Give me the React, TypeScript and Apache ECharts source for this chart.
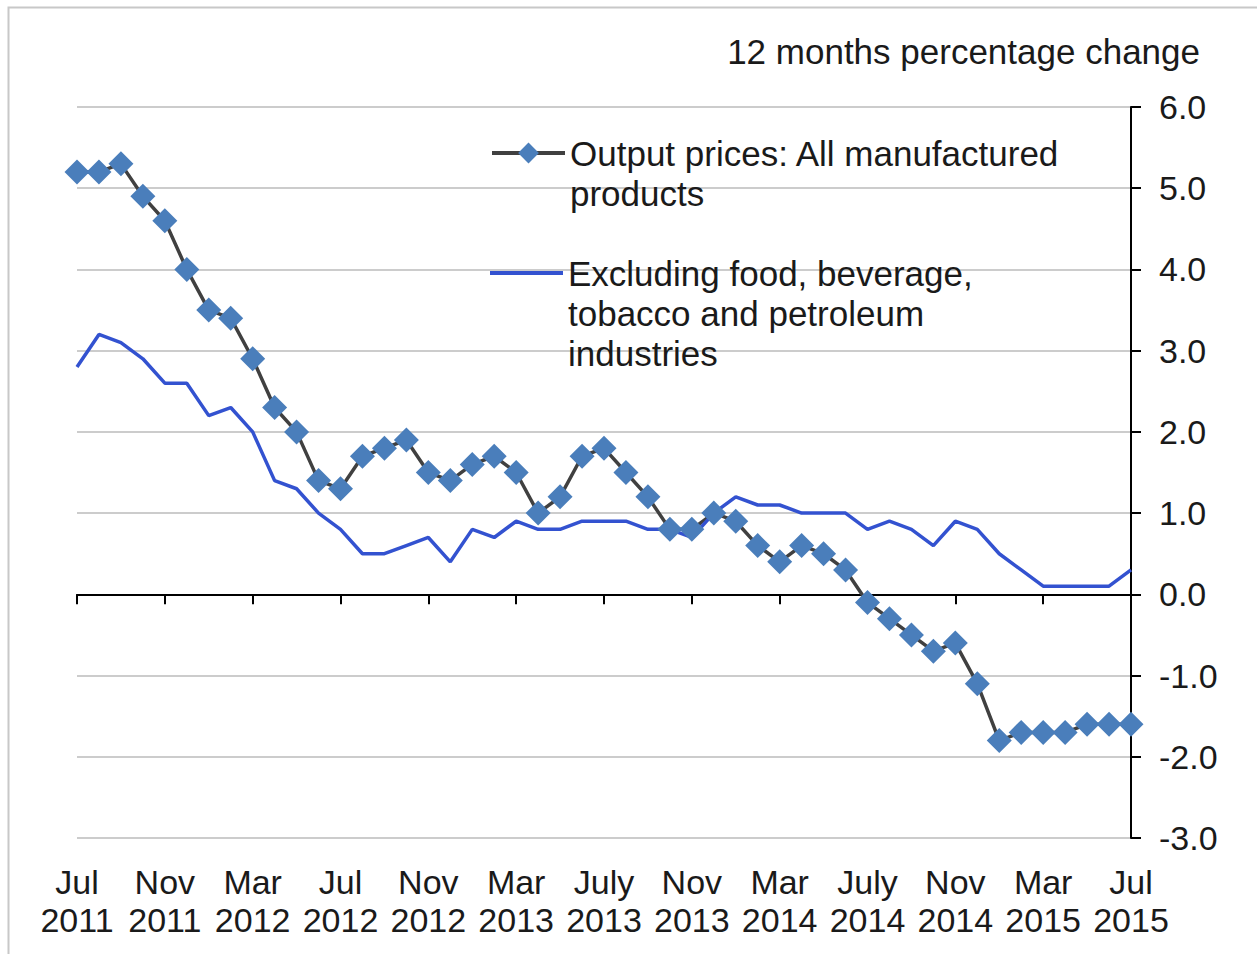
import React, { useEffect, useRef } from "react";
import * as echarts from "echarts";

const MONTHS = ["Jan", "Feb", "Mar", "Apr", "May", "Jun", "Jul", "Aug", "Sep", "Oct", "Nov", "Dec"];
// Jul 2011 .. Jul 2015 (49 months)
const categories: string[] = [];
for (let k = 0; k < 49; k++) {
  const m = (6 + k) % 12;
  const y = 2011 + Math.floor((6 + k) / 12);
  categories.push(MONTHS[m] + " " + y);
}

const tickLabels = [
  "Jul\n2011", "Nov\n2011", "Mar\n2012", "Jul\n2012", "Nov\n2012", "Mar\n2013", "July\n2013",
  "Nov\n2013", "Mar\n2014", "July\n2014", "Nov\n2014", "Mar\n2015", "Jul\n2015",
];

const outputPrices = [
  5.2, 5.2, 5.3, 4.9, 4.6, 4.0, 3.5, 3.4, 2.9, 2.3, 2.0, 1.4, 1.3,
  1.7, 1.8, 1.9, 1.5, 1.4, 1.6, 1.7, 1.5, 1.0, 1.2, 1.7, 1.8,
  1.5, 1.2, 0.8, 0.8, 1.0, 0.9, 0.6, 0.4, 0.6, 0.5, 0.3, -0.1,
  -0.3, -0.5, -0.7, -0.6, -1.1, -1.8, -1.7, -1.7, -1.7, -1.6, -1.6, -1.6,
];

const excludingFood = [
  2.8, 3.2, 3.1, 2.9, 2.6, 2.6, 2.2, 2.3, 2.0, 1.4, 1.3, 1.0, 0.8,
  0.5, 0.5, 0.6, 0.7, 0.4, 0.8, 0.7, 0.9, 0.8, 0.8, 0.9, 0.9,
  0.9, 0.8, 0.8, 0.7, 1.0, 1.2, 1.1, 1.1, 1.0, 1.0, 1.0, 0.8,
  0.9, 0.8, 0.6, 0.9, 0.8, 0.5, 0.3, 0.1, 0.1, 0.1, 0.1, 0.3,
];

const seriesNames = [
  "Output prices: All manufactured\nproducts",
  "Excluding food, beverage,\ntobacco and petroleum\nindustries",
];

const FONT = "'Liberation Sans', Arial, sans-serif";
const TEXT = "#1a1a1a";

export default function App() {
  const ref = useRef<HTMLDivElement>(null);
  useEffect(() => {
    if (!ref.current) return;
    const chart = echarts.init(ref.current, null, { renderer: "svg" });
    const legendText = {
      fontFamily: FONT,
      fontSize: 35,
      lineHeight: 40,
      color: TEXT,
    };
    chart.setOption({
      animation: false,
      backgroundColor: "#ffffff",
      textStyle: { fontFamily: FONT },
      title: {
        text: "12 months percentage change",
        right: 57,
        top: 34,
        padding: 0,
        textStyle: { fontFamily: FONT, fontSize: 35, fontWeight: "normal", color: TEXT },
      },
      graphic: [
        {
          type: "rect",
          shape: { x: 8.5, y: 7.5, width: 1400, height: 1100 },
          style: { fill: "none", stroke: "#c8c8c8", lineWidth: 2 },
          silent: true,
        },
      ],
      legend: [
        {
          data: [seriesNames[0]],
          left: 490,
          top: 93,
          padding: 0,
          itemWidth: 73,
          itemHeight: 26,
          selectedMode: false,
          lineStyle: { width: 4 },
          // leading blank line keeps the first text line level with the icon
          formatter: (name: string) => "\n" + name,
          textStyle: legendText,
        },
        {
          data: [{ name: seriesNames[1], icon: "rect" }],
          left: 490,
          top: 173,
          padding: 0,
          itemWidth: 73,
          itemHeight: 4,
          selectedMode: false,
          formatter: (name: string) => "\n\n" + name,
          textStyle: legendText,
        },
      ],
      grid: { left: 77, right: 126, top: 107, bottom: 116, containLabel: false },
      xAxis: [
        {
          type: "category",
          data: categories,
          boundaryGap: false,
          axisLine: { onZero: true, lineStyle: { color: "#000", width: 2 } },
          axisTick: { show: true, interval: 3, length: 10, lineStyle: { color: "#000", width: 2 } },
          axisLabel: { show: false },
          splitLine: { show: false },
        },
        {
          type: "category",
          data: categories,
          boundaryGap: false,
          position: "bottom",
          axisLine: { show: false, onZero: false },
          axisTick: { show: false },
          splitLine: { show: false },
          axisLabel: {
            interval: 3,
            margin: 25,
            fontFamily: FONT,
            fontSize: 34,
            lineHeight: 38,
            color: TEXT,
            formatter: (_v: string, idx: number) => (idx % 4 === 0 ? tickLabels[idx / 4] : ""),
          },
        },
      ],
      yAxis: {
        type: "value",
        position: "right",
        min: -3,
        max: 6,
        interval: 1,
        axisLine: { show: true, lineStyle: { color: "#000", width: 2 } },
        axisTick: { show: true, length: 10, lineStyle: { color: "#000", width: 2 } },
        axisLabel: {
          margin: 28,
          fontFamily: FONT,
          fontSize: 34,
          color: TEXT,
          formatter: (v: number) => v.toFixed(1),
        },
        splitLine: { show: true, lineStyle: { color: "#cccccc", width: 2 } },
      },
      series: [
        {
          name: seriesNames[0],
          type: "line",
          xAxisIndex: 0,
          data: outputPrices,
          symbol: "diamond",
          symbolSize: 25,
          showAllSymbol: true,
          lineStyle: { color: "#404040", width: 3.5 },
          itemStyle: { color: "#4a7ebb" },
        },
        {
          name: seriesNames[1],
          type: "line",
          xAxisIndex: 0,
          data: excludingFood,
          symbol: "none",
          lineStyle: { color: "#3352d0", width: 3.5 },
          itemStyle: { color: "#3352d0" },
        },
      ],
    });
    return () => chart.dispose();
  }, []);
  return (
    <div
      ref={ref}
      style={{ position: "absolute", left: 0, top: 0, width: 1257, height: 954 }}
    />
  );
}
